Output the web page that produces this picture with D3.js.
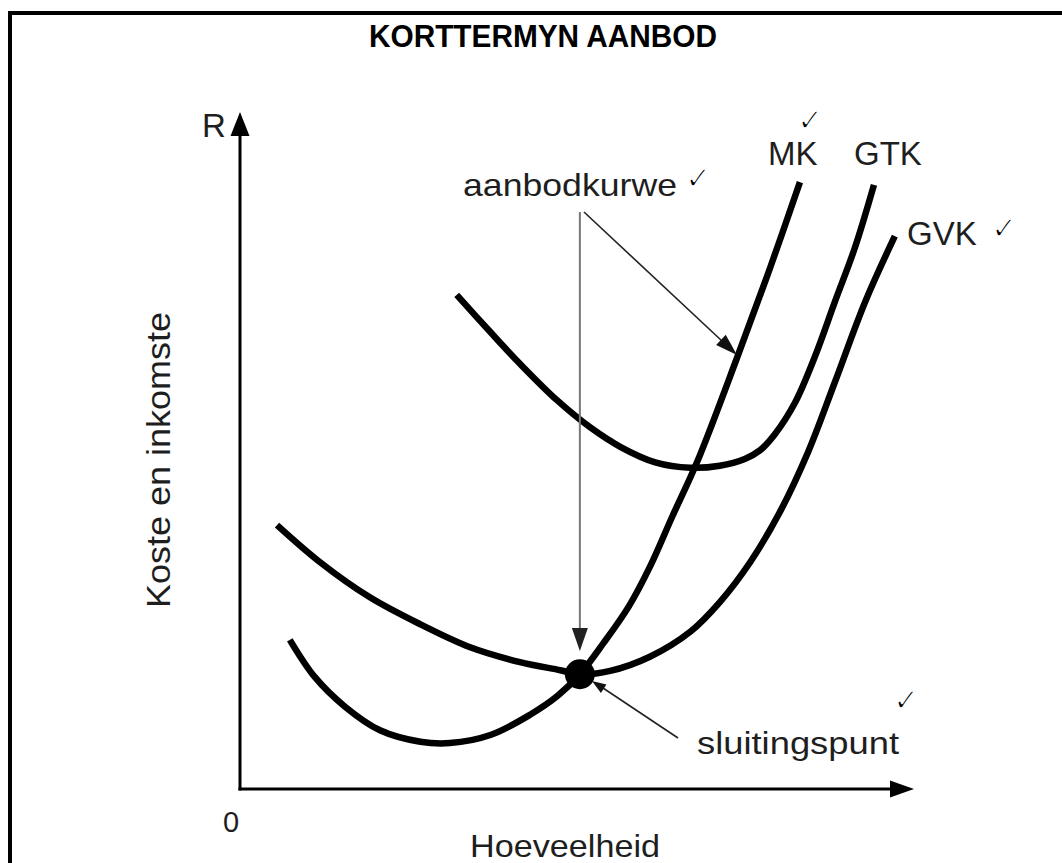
<!DOCTYPE html>
<html>
<head>
<meta charset="utf-8">
<script src="https://cdn.jsdelivr.net/npm/d3@7"></script>
<style>
  body { margin: 0; background: #fff; }
  text { font-family: "Liberation Sans", Arial, sans-serif; fill: #1e1e1e; }
  .tick-mark { font-family: "DejaVu Sans", sans-serif; fill: #000; stroke: #fff; stroke-width: 1.3px; }
</style>
</head>
<body>
<svg id="chart" width="1062" height="863"></svg>
<script>
// curve data in chart units (quantity 0-100, cost 0-100)
var mkQ   = [7.4, 11.1, 15.6, 20.8, 26.8, 31.2, 37.2, 43.1, 47.2, 50.5, 54.0, 57.8, 60.9, 64.2, 67.9, 73.9, 78.8, 83.2];
var mkR   = [22.1, 16.6, 12.2, 8.7, 7.0, 6.8, 8.0, 11.0, 13.8, 17.0, 21.6, 27.1, 32.9, 40.3, 48.4, 64.0, 77.3, 89.9];

var gtkQ  = [32.2, 37.2, 41.6, 47.1, 52.0, 56.5, 61.7, 66.9, 71.3, 75.0, 77.3, 79.5, 82.5, 85.4, 88.4, 91.4, 94.2];
var gtkR  = [73.2, 67.7, 63.0, 57.6, 53.6, 50.7, 48.4, 47.6, 47.9, 48.9, 50.2, 52.6, 57.3, 64.0, 72.2, 80.3, 89.5];

var gvkQ  = [5.5, 11.9, 19.3, 26.8, 34.2, 41.6, 47.6, 50.5, 55.0, 60.9, 66.9, 71.3, 75.8, 80.2, 84.4, 88.4, 92.9, 97.3];
var gvkR  = [39.1, 33.6, 28.4, 24.4, 21.0, 18.8, 17.6, 17.0, 17.5, 19.6, 23.3, 27.7, 33.6, 41.0, 49.9, 60.3, 72.2, 81.9];

var shutdown = [50.5, 17.0];

var curveLabels = ["MK", "GTK", "GVK"];

var svg = d3.select("#chart");

var x = d3.scaleLinear().domain([0, 100]).range([240, 913]);
var y = d3.scaleLinear().domain([0, 100]).range([789, 114]);

function zip(qs, rs) {
    return qs.map(function(q, i) { return [q, rs[i]]; });
}

function arrowHead(x1, y1, x2, y2, len, hw) {
    // triangle with tip at (x2,y2), pointing along (x1,y1)->(x2,y2)
    var a = Math.atan2(y2 - y1, x2 - x1);
    var bx = x2 - len * Math.cos(a), by = y2 - len * Math.sin(a);
    var px = -Math.sin(a) * hw, py = Math.cos(a) * hw;
    return "M" + x2 + "," + y2 + "L" + (bx + px) + "," + (by + py) + "L" + (bx - px) + "," + (by - py) + "Z";
}

// frame
svg.append("rect")
    .attr("x", 10).attr("y", 13)
    .attr("width", 1100).attr("height", 900)
    .attr("fill", "none").attr("stroke", "#000").attr("stroke-width", 4);

// title
svg.append("text")
    .attr("x", 369).attr("y", 47)
    .attr("textLength", 348).attr("lengthAdjust", "spacingAndGlyphs")
    .style("font-size", "31px").style("font-weight", "bold").style("fill", "#000")
    .text("KORTTERMYN AANBOD");

// axes
svg.append("line")
    .attr("x1", x(0)).attr("y1", y(0) + 1.5)
    .attr("x2", x(0)).attr("y2", 132)
    .attr("stroke", "#000").attr("stroke-width", 3);
svg.append("path")
    .attr("d", arrowHead(x(0), 200, x(0), 112, 24, 9.5))
    .attr("fill", "#000");

svg.append("line")
    .attr("x1", x(0) - 1.5).attr("y1", y(0))
    .attr("x2", 895).attr("y2", y(0))
    .attr("stroke", "#000").attr("stroke-width", 3);
svg.append("path")
    .attr("d", arrowHead(800, y(0), 914, y(0), 24, 8.5))
    .attr("fill", "#000");

// axis labels
svg.append("text").attr("x", 202).attr("y", 137)
    .style("font-size", "33px").text("R");
svg.append("text").attr("x", 223).attr("y", 832)
    .style("font-size", "29px").text("0");
svg.append("text").attr("x", 470).attr("y", 857)
    .attr("textLength", 190).attr("lengthAdjust", "spacingAndGlyphs")
    .style("font-size", "32px").text("Hoeveelheid");
svg.append("text")
    .attr("transform", "translate(170,608) rotate(-90)")
    .attr("textLength", 296).attr("lengthAdjust", "spacingAndGlyphs")
    .style("font-size", "34px").text("Koste en inkomste");

// cost curves
var line = d3.line()
    .x(function(d) { return x(d[0]); })
    .y(function(d) { return y(d[1]); })
    .curve(d3.curveCatmullRom.alpha(0.5));

[zip(mkQ, mkR), zip(gtkQ, gtkR), zip(gvkQ, gvkR)].forEach(function(pts, i) {
    svg.append("path")
        .datum(pts)
        .attr("class", "curve " + curveLabels[i])
        .attr("d", line)
        .attr("fill", "none")
        .attr("stroke", "#000")
        .attr("stroke-width", 6.5)
        .attr("stroke-linecap", "butt");
});

// shutdown point
svg.append("circle")
    .attr("cx", x(shutdown[0])).attr("cy", y(shutdown[1]))
    .attr("r", 15).attr("fill", "#000");

// curve labels
svg.append("text").attr("x", 768).attr("y", 165).style("font-size", "33px").text(curveLabels[0]);
svg.append("text").attr("x", 854).attr("y", 165).style("font-size", "33px").text(curveLabels[1]);
svg.append("text").attr("x", 907).attr("y", 245).style("font-size", "33px").text(curveLabels[2]);

// annotation: aanbodkurwe
svg.append("text").attr("x", 463).attr("y", 196)
    .attr("textLength", 214).attr("lengthAdjust", "spacingAndGlyphs")
    .style("font-size", "32px").text("aanbodkurwe");

var sx = x(shutdown[0]);
svg.append("line")
    .attr("x1", sx).attr("y1", 212).attr("x2", sx).attr("y2", 630)
    .attr("stroke", "#777").attr("stroke-width", 2);
svg.append("path")
    .attr("d", arrowHead(sx, 212, sx, 651, 23, 8))
    .attr("fill", "#222");

svg.append("line")
    .attr("x1", 584).attr("y1", 212).attr("x2", 722).attr("y2", 341)
    .attr("stroke", "#222").attr("stroke-width", 1.6);
svg.append("path")
    .attr("d", arrowHead(584, 212, 737, 355, 22, 7))
    .attr("fill", "#111");

// annotation: sluitingspunt
svg.append("line")
    .attr("x1", 678).attr("y1", 738).attr("x2", 600).attr("y2", 686)
    .attr("stroke", "#222").attr("stroke-width", 1.6);
svg.append("path")
    .attr("d", arrowHead(678, 738, 592, 681, 14, 5))
    .attr("fill", "#111");
svg.append("text").attr("x", 697).attr("y", 754)
    .attr("textLength", 202).attr("lengthAdjust", "spacingAndGlyphs")
    .style("font-size", "32px").text("sluitingspunt");

// check marks
[[797, 131], [685, 189], [991, 239], [893, 711]].forEach(function(p) {
    svg.append("text").attr("class", "tick-mark")
        .attr("x", p[0]).attr("y", p[1])
        .style("font-size", "32px").text("\u2713");
});
</script>
</body>
</html>
